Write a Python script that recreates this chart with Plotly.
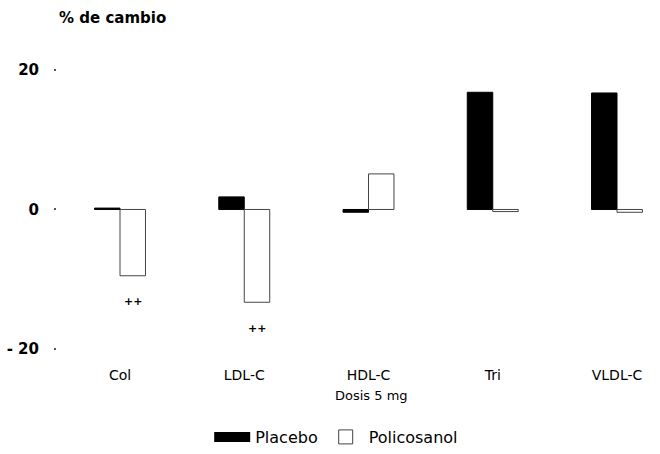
import plotly.graph_objects as go

categories = ["Col", "LDL-C", "HDL-C", "Tri", "VLDL-C"]
placebo = [0.2, 1.8, -0.4, 16.8, 16.7]
policosanol = [-9.5, -13.3, 5.1, -0.3, -0.4]
signif = ["++", "++", "", "", ""]
y_ticks = [20, 0, -20]
y_ticklabels = ["20", "0", "- 20"]
title_text = "% de cambio"
x_title = "Dosis 5 mg"

FONT = "DejaVu Sans"

fig = go.Figure()
fig.add_trace(go.Bar(
    x=categories, y=placebo, name="Placebo", showlegend=False,
    legendgroup="p", marker=dict(color="black", line=dict(color="black", width=1)),
))
fig.add_trace(go.Bar(
    x=categories, y=policosanol, name="Policosanol", showlegend=False,
    legendgroup="q", marker=dict(color="white", line=dict(color="#444", width=1)),
))
# legend entries
fig.add_trace(go.Scatter(
    x=[None], y=[None], mode="lines", name="Placebo", legendgroup="p",
    line=dict(color="black", width=13),
))
fig.add_trace(go.Scatter(
    x=[None], y=[None], mode="markers", name="Policosanol", legendgroup="q",
    marker=dict(symbol="square-open", size=14, color="#444", line=dict(width=1)),
))

# significance marks below the policosanol bars
for i, (cat, v, s) in enumerate(zip(categories, policosanol, signif)):
    if s:
        fig.add_annotation(
            x=cat, y=v - 3.75, xref="x", yref="y", text="<b>" + s + "</b>",
            showarrow=False, xshift=12.5, font=dict(family=FONT, size=11, color="black"),
        )

fig.add_annotation(
    x=0, y=1, xref="paper", yref="paper", xanchor="left", yanchor="middle",
    yshift=38, text="<b>" + title_text + "</b>", showarrow=False,
    font=dict(family=FONT, size=15, color="black"),
)
fig.add_annotation(
    x=categories[2], y=0, xref="x", yref="paper", xanchor="center", yanchor="middle",
    xshift=3, yshift=-46, text=x_title, showarrow=False,
    font=dict(family=FONT, size=13, color="black"),
)

fig.update_layout(
    width=660, height=454,
    margin=dict(l=57, r=0, t=56, b=103),
    paper_bgcolor="white", plot_bgcolor="white",
    barmode="group", bargap=0.59, bargroupgap=0,
    font=dict(family=FONT, color="black"),
    legend=dict(
        orientation="h", x=0.463, xanchor="center", y=-0.302, yanchor="middle",
        font=dict(family=FONT, size=16, color="black"), itemwidth=36,
        traceorder="normal",
    ),
    xaxis=dict(
        range=[-0.507, 4.346], showgrid=False, zeroline=False, showline=False,
        ticks="", ticklabelstandoff=16, tickfont=dict(family=FONT, size=14, color="black"),
    ),
    yaxis=dict(
        range=[-20, 22], showgrid=False, zeroline=False, showline=False,
        tickvals=y_ticks, ticktext=y_ticklabels, ticks="outside", ticklen=2,
        tickwidth=1.5, tickcolor="#555", ticklabelstandoff=12,
        tickfont=dict(family=FONT, size=15, color="black", weight="bold"),
    ),
)

fig.write_html(
    "out.html",
    config={"displayModeBar": False},
    post_script="document.body.style.margin='0';document.body.style.padding='0';",
)
